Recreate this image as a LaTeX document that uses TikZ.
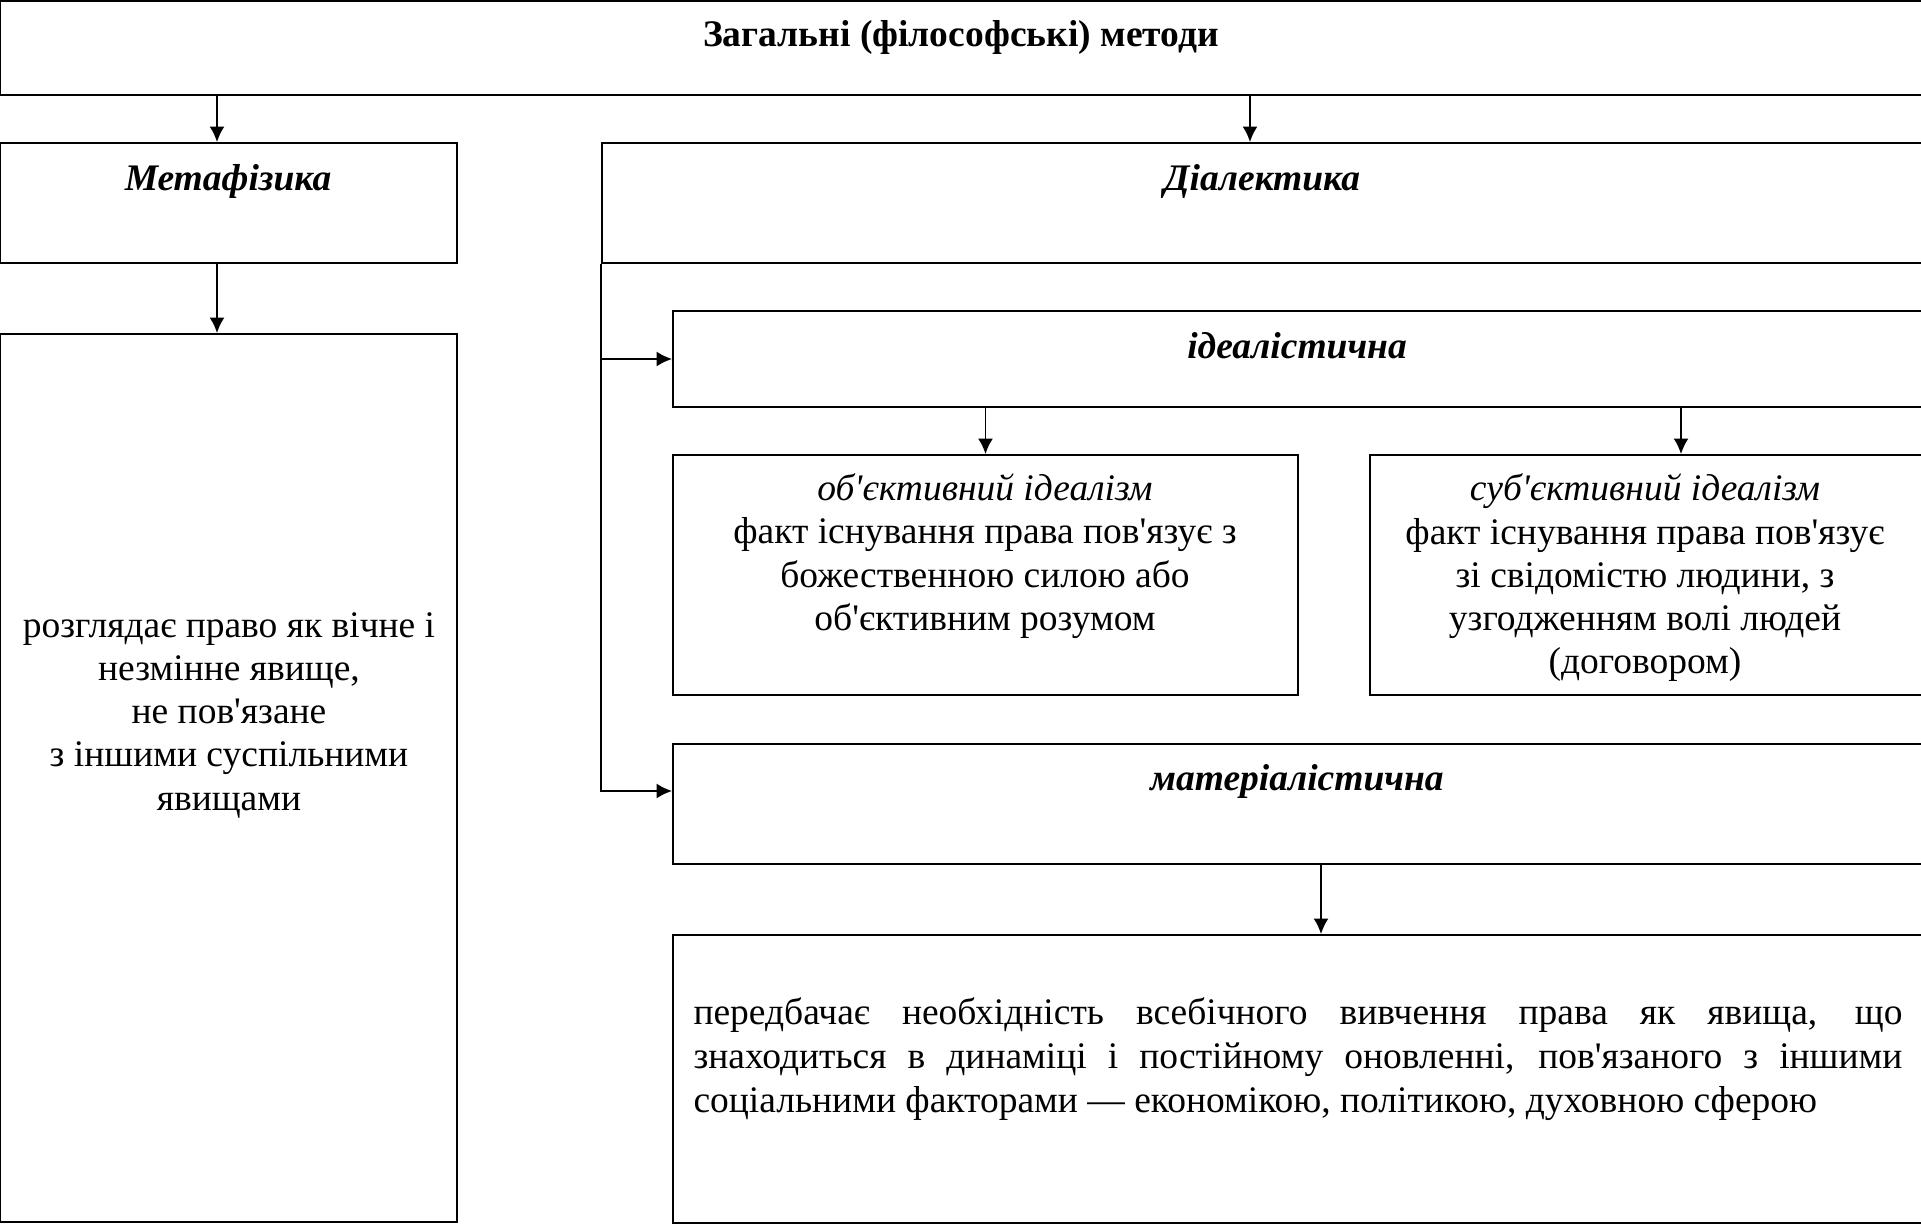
\documentclass[tikz,border=0pt]{standalone}
\usepackage{fontspec}
\setmainfont{Liberation Serif}[Ligatures=TeXOff]
\usetikzlibrary{arrows.meta,fit}

\begin{document}
\begin{tikzpicture}[x=0.4pt,y=-0.4pt,
        box/.style={draw,line width=0.75pt,inner sep=0pt},
        txt/.style={align=center,inner sep=0pt,font=\fontsize{15}{17.3}\selectfont},
        head/.style={inner sep=0pt,font=\fontsize{15}{17}\selectfont\bfseries\itshape},
        arr/.style={-{Latex[length=6.2pt,width=6pt]},line width=0.75pt}]
    \useasboundingbox (0,0) rectangle (1921,1224);
    % boxes
    \node[box,fit={(0,1) (1923,95)}] (top) {};
    \node[box,fit={(0,143) (457,263)}] (meta) {};
    \node[box,fit={(602,143) (1923,263)}] (dial) {};
    \node[box,fit={(0,334) (457,1222)}] (metaD) {};
    \node[box,fit={(673,311) (1923,407)}] (ideal) {};
    \node[box,fit={(673,455) (1298,695)}] (obj) {};
    \node[box,fit={(1370,455) (1923,695)}] (subj) {};
    \node[box,fit={(673,744) (1923,864)}] (mat) {};
    \node[box,fit={(673,935) (1923,1223)}] (matD) {};
    % texts
    \node[head,font=\fontsize{15}{17}\selectfont\bfseries] (topT) at (961,37) {Загальні (філософські) методи};
    \node[head] (metaT) at (228,181) {Метафізика};
    \node[head] (dialT) at (1262,181) {Діалектика};
    \node[head] (idealT) at (1297,346) {ідеалістична};
    \node[head] (matT) at (1297,781) {матеріалістична};
    \node[txt] (metaDT) at (229,715) {розглядає право як вічне і\\незмінне явище,\\не пов'язане\\з іншими суспільними\\явищами};
    \node[txt] (objT) at (985,556) {\textit{об'єктивний ідеалізм}\\факт існування права пов'язує з\\божественною силою або\\об'єктивним розумом};
    \node[txt] (subjT) at (1645,578) {\textit{суб'єктивний ідеалізм}\\факт існування права пов'язує\\зі свідомістю людини, з\\узгодженням волі людей\\(договором)};
    \node[txt,anchor=west,text width=483.6pt,align=justify,font=\fontsize{15}{17.5}\selectfont] (matDT) at (693,1059)
        {передбачає необхідність всебічного вивчення права як явища, що\linebreak знаходиться в динаміці і постійному оновленні, пов'язаного з іншими\linebreak соціальними факторами — економікою, політикою, духовною сферою};
    % arrows
    \coordinate (xa) at (217,0);
    \coordinate (xb) at (1250,0);
    \coordinate (xc) at (1681,0);
    \coordinate (xd) at (1321,0);
    \draw[arr] (top.south -| xa) -- (meta.north -| xa);
    \draw[arr] (top.south -| xb) -- (dial.north -| xb);
    \draw[arr] (meta.south -| xa) -- (metaD.north -| xa);
    \draw[arr] (dial.south west) |- (ideal.west);
    \draw[arr] (dial.south west) |- ([yshift=5.2pt]mat.west);
    \draw[arr] (ideal.south -| obj.north) -- (obj.north);
    \draw[arr] (ideal.south -| xc) -- (subj.north -| xc);
    \draw[arr] (mat.south -| xd) -- (matD.north -| xd);
\end{tikzpicture}
\end{document}
